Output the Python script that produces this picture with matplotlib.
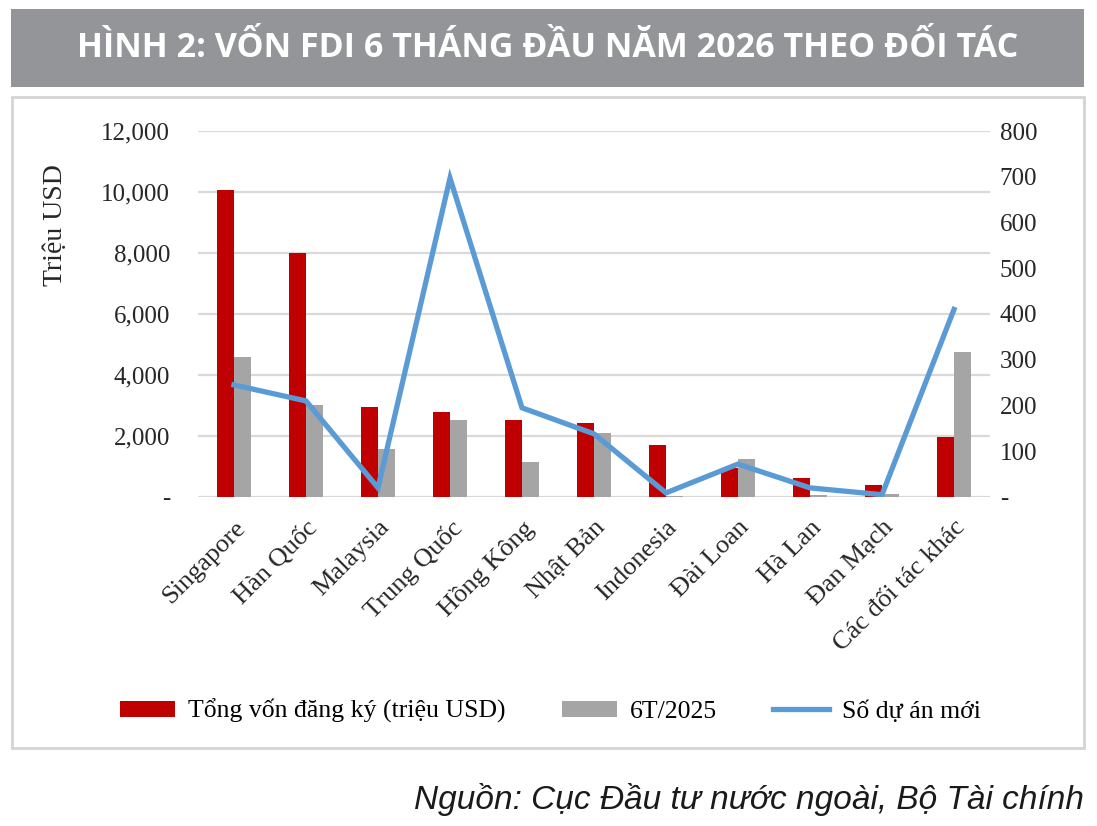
import matplotlib
matplotlib.use("Agg")
import matplotlib.pyplot as plt
import numpy as np
from matplotlib.patches import Rectangle
from matplotlib.ticker import FuncFormatter

# Data
partners = ["Singapore", "Hàn Quốc", "Malaysia", "Trung Quốc", "Hồng Kông", "Nhật Bản",
            "Indonesia", "Đài Loan", "Hà Lan", "Đan Mạch", "Các đối tác khác"]
capital_2026 = [10080, 8000, 2950, 2800, 2520, 2430, 1700, 950, 620, 390, 1970]
capital_2025 = [4600, 3020, 1570, 2520, 1150, 2100, 30, 1250, 50, 90, 4750]
new_projects = [245, 210, 20, 697, 195, 138, 9, 72, 20, 5, 410]

title = "HÌNH 2: VỐN FDI 6 THÁNG ĐẦU NĂM 2026 THEO ĐỐI TÁC"
source = "Nguồn: Cục Đầu tư nước ngoài, Bộ Tài chính"

W, H = 1097, 826
fig = plt.figure(figsize=(W / 100, H / 100), dpi=100)

serif = ["Liberation Serif", "DejaVu Serif"]

# title banner
fig.patches.append(Rectangle((11 / W, 1 - 87 / H), 1073 / W, 78 / H,
                             transform=fig.transFigure, facecolor="#939598",
                             edgecolor="none", zorder=-2))
fig.text(548 / W, 1 - 48 / H, title, ha="center", va="center", color="white",
         fontsize=24.5, fontweight="bold", family=["Open Sans", "DejaVu Sans"])

# chart frame
fig.patches.append(Rectangle((12 / W, 1 - 748 / H), 1072 / W, 651 / H,
                             transform=fig.transFigure, facecolor="white",
                             edgecolor="#d4d4d4", linewidth=2, zorder=-2))

ax = fig.add_axes([198 / W, 1 - 497 / H, 792 / W, 366 / H])
ax2 = ax.twinx()
ax.patch.set_alpha(0)
ax2.patch.set_alpha(0)

x = np.arange(len(partners))
w = 0.23
ax.bar(x - w / 2, capital_2026, width=w, color="#C00000", label="Tổng vốn đăng ký (triệu USD)", zorder=3)
ax.bar(x + w / 2, capital_2025, width=w, color="#A5A5A5", label="6T/2025", zorder=3)
ax2.plot(x, new_projects, color="#5B9BD5", linewidth=3.8, label="Số dự án mới",
         solid_joinstyle="miter", zorder=4)

ax.set_xlim(-0.5, len(partners) - 0.5)
ax.set_ylim(0, 12000)
ax.set_yticks(range(0, 12001, 2000))
ax2.set_ylim(0, 800)
ax2.set_yticks(range(0, 801, 100))

ax.yaxis.set_major_formatter(FuncFormatter(lambda v, p: "-" if v == 0 else f"{int(v):,}"))
ax2.yaxis.set_major_formatter(FuncFormatter(lambda v, p: "-" if v == 0 else f"{int(v)}"))

ax.grid(axis="y", color="#d9d9d9", linewidth=1.6, zorder=0)
ax.set_axisbelow(True)
for a in (ax, ax2):
    for s in a.spines.values():
        s.set_visible(False)
    a.tick_params(length=0, labelsize=18, labelcolor="#262626")
    for lab in a.get_yticklabels():
        lab.set_family(serif)

ax.tick_params(axis="y", pad=20)
ax2.tick_params(axis="y", pad=7)
ax.set_xticks(x)
ax.set_xticklabels(partners, rotation=45, ha="right", rotation_mode="anchor",
                   family=serif, fontsize=19, color="#262626")
ax.tick_params(axis="x", pad=14)

fig.text(55 / W, 1 - 225 / H, "Triệu USD", rotation=90, ha="center", va="center",
         family=serif, fontsize=20, color="#262626")

h1, l1 = ax.get_legend_handles_labels()
h2, l2 = ax2.get_legend_handles_labels()
fig.legend(h1 + h2, l1 + l2, loc="center", bbox_to_anchor=(550 / W, 1 - 711 / H),
           ncol=3, frameon=False, prop={"family": serif, "size": 18.5},
           handlelength=2.15, handleheight=0.6, columnspacing=2.2, handletextpad=0.5)

fig.text(1084 / W, 1 - 800 / H, source, ha="right", va="center", style="italic",
         fontsize=24, family=["Liberation Sans Narrow", "Liberation Sans", "DejaVu Sans"],
         color="#1a1a1a")

fig.savefig("out.png", dpi=100)
